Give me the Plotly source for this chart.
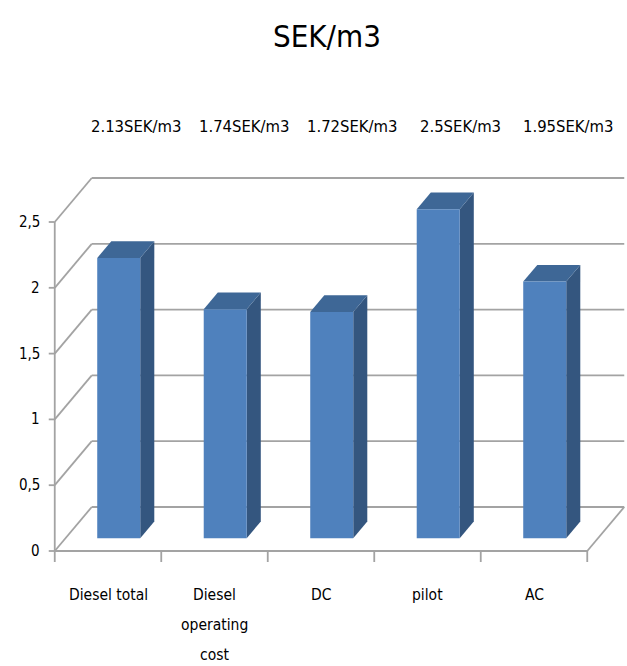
import plotly.graph_objects as go

# ---- data ----
categories = ["Diesel total", "Diesel\noperating\ncost", "DC", "pilot", "AC"]
values = [2.13, 1.74, 1.72, 2.5, 1.95]
value_labels = ["2.13SEK/m3", "1.74SEK/m3", "1.72SEK/m3", "2.5SEK/m3", "1.95SEK/m3"]
y_ticks = [0, 0.5, 1, 1.5, 2, 2.5]
y_tick_text = ["0", "0,5", "1", "1,5", "2", "2,5"]
title = "SEK/m3"

# ---- geometry / style (pseudo-3D) ----
W, H = 627, 666
PX_PER_CAT = 106.5
PX_PER_VAL = 131.6
X0_PX = 108.0      # pixel of category 0 (front floor)
Y0_PX = 551.0      # pixel of value 0 (front floor)
DX = 37 / PX_PER_CAT   # full depth offset in category units
DY = 44 / PX_PER_VAL   # full depth offset in value units
D_FRONT, D_BACK = 0.29, 0.67
HALF_W = 21.5 / PX_PER_CAT
FONT = "DejaVu Sans Condensed, sans-serif"
GRID = "#a3a3a3"
C_FRONT, C_TOP, C_SIDE = "#4f81bd", "#3e6796", "#34567f"

x_range = [(0 - X0_PX) / PX_PER_CAT, (W - X0_PX) / PX_PER_CAT]
y_range = [(Y0_PX - H) / PX_PER_VAL, Y0_PX / PX_PER_VAL]

n = len(categories)
left, right = -0.5, n - 0.5

fig = go.Figure()

def seg(x, y, color=GRID, width=1.8):
    fig.add_trace(go.Scatter(x=x, y=y, mode="lines", line=dict(color=color, width=width),
                             hoverinfo="skip", showlegend=False))

# back wall gridlines (including floor back edge)
for t in y_ticks:
    seg([left + DX, right + DX], [t + DY, t + DY])
# left wall diagonals
for t in y_ticks:
    seg([left, left + DX], [t, t + DY])
# front vertical axis
seg([left, left], [0, y_ticks[-1]])
# floor front edge and right edge
seg([left, right], [0, 0])
seg([right, right + DX], [0, DY])
# y ticks
for t in y_ticks:
    seg([left - 6 / PX_PER_CAT, left], [t, t])
# x ticks
for k in range(n + 1):
    seg([k - 0.5, k - 0.5], [0, -11 / PX_PER_VAL])

# bars
ox0, oy0 = D_FRONT * DX, D_FRONT * DY
ox1, oy1 = D_BACK * DX, D_BACK * DY
for i, v in enumerate(values):
    xl, xr = i - HALF_W + ox0, i + HALF_W + ox0
    ddx, ddy = ox1 - ox0, oy1 - oy0
    # side
    fig.add_trace(go.Scatter(x=[xr, xr, xr + ddx, xr + ddx, xr], y=[oy0, v + oy0, v + oy1, oy1, oy0],
                             fill="toself", fillcolor=C_SIDE, mode="lines", line=dict(width=0, color=C_SIDE),
                             hoverinfo="skip", showlegend=False))
    # top
    fig.add_trace(go.Scatter(x=[xl, xr, xr + ddx, xl + ddx, xl], y=[v + oy0, v + oy0, v + oy1, v + oy1, v + oy0],
                             fill="toself", fillcolor=C_TOP, mode="lines", line=dict(width=0, color=C_TOP),
                             hoverinfo="skip", showlegend=False))
    # front
    fig.add_trace(go.Scatter(x=[xl, xr, xr, xl, xl], y=[oy0, oy0, v + oy0, v + oy0, oy0],
                             fill="toself", fillcolor=C_FRONT, mode="lines", line=dict(width=0, color=C_FRONT),
                             hoverinfo="skip", showlegend=False))

annotations = []
# y tick labels
for t, txt in zip(y_ticks, y_tick_text):
    annotations.append(dict(x=left - 13 / PX_PER_CAT, y=t, xref="x", yref="y", text=txt, showarrow=False,
                            xanchor="right", yanchor="middle", font=dict(family=FONT, size=15, color="#000")))
# category labels (one annotation per line)
line_h = 30 / PX_PER_VAL
first_y = (Y0_PX - 595) / PX_PER_VAL
for i, cat in enumerate(categories):
    for j, line in enumerate(cat.split("\n")):
        annotations.append(dict(x=i, y=first_y - j * line_h, xref="x", yref="y", text=line, showarrow=False,
                                xanchor="center", yanchor="middle", font=dict(family=FONT, size=15.5, color="#000")))
# value labels row
for i, txt in enumerate(value_labels):
    annotations.append(dict(x=(136 + 108 * i) / W, y=1 - 127 / H, xref="paper", yref="paper", text=txt,
                            showarrow=False, xanchor="center", yanchor="middle",
                            font=dict(family=FONT, size=16.5, color="#000")))
# title
annotations.append(dict(x=327 / W, y=1 - 36 / H, xref="paper", yref="paper", text=title, showarrow=False,
                        xanchor="center", yanchor="middle", font=dict(family=FONT, size=31, color="#000")))

fig.update_layout(
    width=W, height=H, margin=dict(l=0, r=0, t=0, b=0),
    paper_bgcolor="white", plot_bgcolor="white",
    xaxis=dict(range=x_range, visible=False, fixedrange=True),
    yaxis=dict(range=y_range, visible=False, fixedrange=True),
    annotations=annotations, showlegend=False,
)
fig.write_html("out.html")
